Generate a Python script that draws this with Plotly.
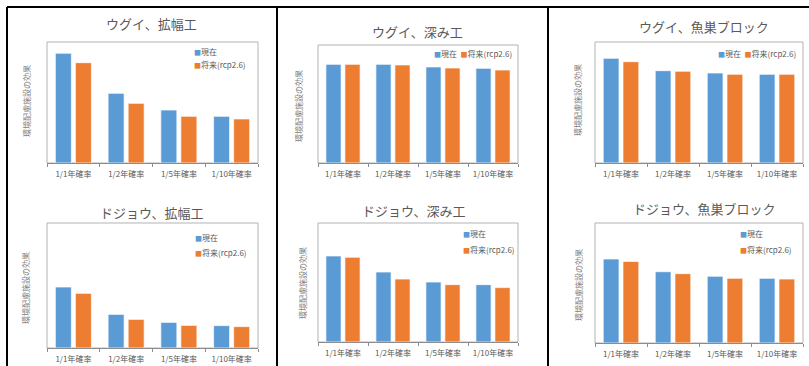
import plotly.graph_objects as go

# ---------------- data ----------------
categories = ["1/1年確率", "1/2年確率", "1/5年確率", "1/10年確率"]
series_names = ["現在", "将来(rcp2.6)"]
panel_titles = ["ウグイ、拡幅工", "ウグイ、深み工", "ウグイ、魚巣ブロック",
                "ドジョウ、拡幅工", "ドジョウ、深み工", "ドジョウ、魚巣ブロック"]
y_axis_title = "環境配慮施設の効果"

ugui_kakufuku_now = [0.907, 0.576, 0.438, 0.386]
ugui_kakufuku_future = [0.829, 0.493, 0.386, 0.364]
ugui_fukami_now = [0.836, 0.836, 0.814, 0.802]
ugui_fukami_future = [0.836, 0.831, 0.805, 0.788]
ugui_gyoso_now = [0.865, 0.763, 0.744, 0.733]
ugui_gyoso_future = [0.837, 0.758, 0.733, 0.733]
dojo_kakufuku_now = [0.488, 0.269, 0.205, 0.179]
dojo_kakufuku_future = [0.437, 0.229, 0.181, 0.171]
dojo_fukami_now = [0.723, 0.588, 0.504, 0.482]
dojo_fukami_future = [0.712, 0.529, 0.482, 0.457]
dojo_gyoso_now = [0.700, 0.594, 0.556, 0.539]
dojo_gyoso_future = [0.680, 0.578, 0.539, 0.533]

now_series = [ugui_kakufuku_now, ugui_fukami_now, ugui_gyoso_now,
              dojo_kakufuku_now, dojo_fukami_now, dojo_gyoso_now]
future_series = [ugui_kakufuku_future, ugui_fukami_future, ugui_gyoso_future,
                 dojo_kakufuku_future, dojo_fukami_future, dojo_gyoso_future]

# ---------------- layout geometry (pixels) ----------------
W, H = 809, 366
FONT = "Noto Sans CJK JP"
BLUE = "#5B9BD5"
ORANGE = "#ED7D31"
TEXT = "#595959"

# plot frames: (left, right, top, bottom)
frames = [(47, 258, 42, 163), (318, 518, 45, 163), (595, 803, 42, 163),
          (47, 258, 223, 348), (318, 518, 223, 342), (595, 803, 223, 343)]
title_pos = [(151, 24), (417, 32), (704, 27), (152, 212), (414, 210), (704, 208)]
ytitle_pos = [(27, 101), (298, 106), (577, 100), (25, 288), (302, 283), (578, 285)]
# legend: (left x, first row y, second row y or None for horizontal)
legend_pos = [(192, 52, 65), (432, 53, None), (716, 53, None),
              (193, 237, 252), (461, 233, 249), (738, 233, 249)]


def px(x):
    return x / W


def py(y):
    return 1 - y / H


fig = go.Figure()
layout = dict(
    width=W, height=H,
    margin=dict(l=0, r=0, t=0, b=0),
    paper_bgcolor="white", plot_bgcolor="white",
    barmode="group", bargap=0.24, bargroupgap=0.2,
    showlegend=False,
    font=dict(family=FONT, color=TEXT),
)
annotations = []
shapes = []

for i in range(6):
    n = "" if i == 0 else str(i + 1)
    l, r, t, b = frames[i]
    for vals, name, col in ((now_series[i], series_names[0], BLUE),
                            (future_series[i], series_names[1], ORANGE)):
        fig.add_trace(go.Bar(
            x=categories, y=vals, name=name,
            xaxis="x" + n, yaxis="y" + n,
            marker=dict(color=col, line=dict(color="white", width=0.7)),
            showlegend=False,
        ))
    layout["xaxis" + n] = dict(
        domain=[px(l), px(r)], anchor="y" + n, type="category",
        showline=True, linecolor="#8C8C8C", linewidth=1,
        ticks="outside", tickson="boundaries", ticklen=3, tickcolor="#8C8C8C",
        ticklabelstandoff=3,
        tickfont=dict(size=8, color=TEXT, family=FONT),
        showgrid=False, fixedrange=True,
    )
    layout["yaxis" + n] = dict(
        domain=[py(b), py(t)], anchor="x" + n, range=[0, 1],
        showticklabels=False, showgrid=False, zeroline=False, showline=False,
        ticks="", fixedrange=True,
    )
    # plot-area frame
    shapes.append(dict(type="rect", xref="x" + n + " domain", yref="y" + n + " domain",
                       x0=0, x1=1, y0=0, y1=1, line=dict(color="#B3B3B3", width=1),
                       layer="below"))
    # titles
    tx, ty = title_pos[i]
    annotations.append(dict(text=panel_titles[i], x=px(tx), y=py(ty), xref="paper", yref="paper",
                            xanchor="center", yanchor="middle", showarrow=False,
                            font=dict(size=13, color=TEXT, family=FONT)))
    yx, yy = ytitle_pos[i]
    annotations.append(dict(text=y_axis_title, x=px(yx), y=py(yy), xref="paper", yref="paper",
                            xanchor="center", yanchor="middle", showarrow=False, textangle=-90,
                            font=dict(size=8, color="#7F7F7F", family=FONT)))
    # legends
    lx, ly1, ly2 = legend_pos[i]
    sq_b = "<span style='color:%s;font-size:7px'>■</span>" % BLUE
    sq_o = "<span style='color:%s;font-size:7px'>■</span>" % ORANGE
    if ly2 is None:
        annotations.append(dict(text=sq_b + series_names[0] + "  " + sq_o + series_names[1],
                                x=px(lx), y=py(ly1), xref="paper", yref="paper",
                                xanchor="left", yanchor="middle", showarrow=False,
                                font=dict(size=8, color=TEXT, family=FONT)))
    else:
        for name, sq, yv in ((series_names[0], sq_b, ly1), (series_names[1], sq_o, ly2)):
            annotations.append(dict(text=sq + name, x=px(lx), y=py(yv), xref="paper", yref="paper",
                                    xanchor="left", yanchor="middle", showarrow=False,
                                    font=dict(size=8, color=TEXT, family=FONT)))

# outer panel borders
border = dict(color="black", width=2)
shapes.append(dict(type="line", xref="paper", yref="paper", x0=px(7), x1=px(809), y0=py(7), y1=py(7), line=border))
for xv in (7, 277, 548):
    shapes.append(dict(type="line", xref="paper", yref="paper", x0=px(xv), x1=px(xv), y0=py(7), y1=py(366), line=border))

layout["annotations"] = annotations
layout["shapes"] = shapes
fig.update_layout(**layout)
fig.write_html("out.html", config={"displayModeBar": False},
               post_script="document.body.style.margin='0px';document.body.style.overflow='hidden';")
